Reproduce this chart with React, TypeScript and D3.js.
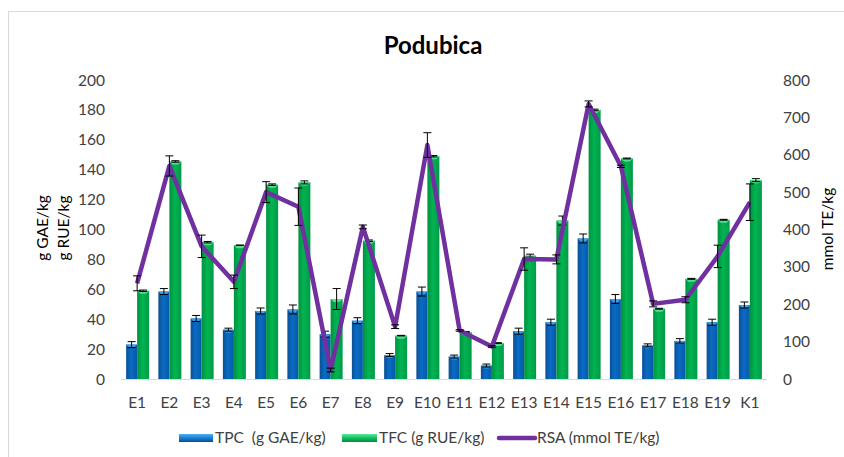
import React from "react";
import * as d3 from "d3";

const categories = ["E1","E2","E3","E4","E5","E6","E7","E8","E9","E10","E11","E12","E13","E14","E15","E16","E17","E18","E19","K1"];
const tpc = [23, 58.5, 40.5, 33, 45.5, 46.5, 30, 39, 16, 58.5, 15, 9, 32, 38, 94, 53.5, 22.5, 25.5, 38, 49.5];
const tpcErr = [2, 2, 2, 1, 2, 3, 2, 2, 1, 3, 1, 1, 2, 2, 3, 3, 1, 1.5, 2, 2];
const tfc = [59, 145.5, 91.5, 89.5, 130, 131.5, 53.5, 92.5, 29, 149, 31.5, 24, 82.5, 106, 180, 147.5, 47, 67, 106.5, 133];
const tfcErr = [0.5, 0.5, 0.5, 0, 0.5, 1, 7, 0.5, 0.2, 0.5, 0.3, 0.3, 1, 3, 0.5, 0.3, 0.3, 0.3, 0.3, 1];
const rsa = [256, 570, 355, 260, 500, 461, 24, 407, 140, 626, 130, 87, 321, 320, 736, 569, 201, 212, 328, 473];
const rsaErr = [20, 27, 30, 18, 28, 50, 5, 5, 5, 33, 2, 2, 30, 12, 8, 3, 8, 8, 30, 49];
const leftTicks = [0, 20, 40, 60, 80, 100, 120, 140, 160, 180, 200];
const rightTicks = [0, 100, 200, 300, 400, 500, 600, 700, 800];
const legendLabels = ["TPC  (g GAE/kg)", "TFC (g RUE/kg)", "RSA (mmol TE/kg)"];

const FONT = "Lato, 'Open Sans', sans-serif";

export default function App() {
  const W = 844, H = 457;
  const x = d3.scaleBand<string>().domain(categories).range([122, 767]);
  const yL = d3.scaleLinear().domain([0, 200]).range([379, 80]);
  const yR = d3.scaleLinear().domain([0, 800]).range([379, 80]);
  const bw = 11;
  const cx = (c: string) => (x(c) as number) + x.bandwidth() / 2 - 1;
  const line = d3.line<number>()
    .x((_, i) => cx(categories[i]))
    .y((d) => yR(d));

  const errBar = (xc: number, yTop: number, yBot: number, key: string) => (
    <g key={key} stroke="#000" strokeWidth={1}>
      <line x1={xc} x2={xc} y1={yTop} y2={yBot} />
      <line x1={xc - 4} x2={xc + 4} y1={yTop} y2={yTop} />
      <line x1={xc - 4} x2={xc + 4} y1={yBot} y2={yBot} />
    </g>
  );

  return (
    <svg width={W} height={H} style={{ position: "fixed", left: 0, top: 0, fontFamily: FONT }}>
      <defs>
        <linearGradient id="gBlue" x1="0" x2="1" y1="0" y2="0">
          <stop offset="0" stopColor="#0b4f96" />
          <stop offset="0.45" stopColor="#0a6cc4" />
          <stop offset="1" stopColor="#0658a8" />
        </linearGradient>
        <linearGradient id="gGreen" x1="0" x2="1" y1="0" y2="0">
          <stop offset="0" stopColor="#019140" />
          <stop offset="0.45" stopColor="#00b451" />
          <stop offset="1" stopColor="#019a47" />
        </linearGradient>
        <linearGradient id="lBlue" x1="0" x2="0" y1="0" y2="1">
          <stop offset="0" stopColor="#4fb0ef" />
          <stop offset="0.5" stopColor="#1b7fd2" />
          <stop offset="1" stopColor="#0a4f96" />
        </linearGradient>
        <linearGradient id="lGreen" x1="0" x2="0" y1="0" y2="1">
          <stop offset="0" stopColor="#5de89a" />
          <stop offset="0.5" stopColor="#10c060" />
          <stop offset="1" stopColor="#018a3c" />
        </linearGradient>
      </defs>
      <rect x={0} y={0} width={W} height={H} fill="#fff" />
      <rect x={8.5} y={11.5} width={W + 20} height={H + 20} fill="none" stroke="#d9d9d9" strokeWidth={1} />

      <text x={433} y={54} textAnchor="middle" fontSize={24} fontWeight="bold" fill="#000">Podubica</text>

      {leftTicks.map((t) => (
        <text key={"l" + t} x={105} y={yL(t) + 5.5} textAnchor="end" fontSize={15.5} fill="#404040">{t}</text>
      ))}
      {rightTicks.map((t) => (
        <text key={"r" + t} x={783} y={yR(t) + 5.5} textAnchor="start" fontSize={15.5} fill="#404040">{t}</text>
      ))}
      <text transform="translate(48,228) rotate(-90)" textAnchor="middle" fontSize={15.5} fill="#000">g GAE/kg</text>
      <text transform="translate(69,228) rotate(-90)" textAnchor="middle" fontSize={15.5} fill="#000">g RUE/kg</text>
      <text transform="translate(833,229) rotate(-90)" textAnchor="middle" fontSize={15.5} fill="#000">mmol TE/kg</text>

      {categories.map((c, i) => {
        const c0 = cx(c);
        const yb = yL(tpc[i]);
        const yg = yL(tfc[i]);
        return (
          <g key={"b" + c}>
            <rect x={c0 - bw} y={yb} width={bw} height={379 - yb} fill="url(#gBlue)" />
            <path d={`M${c0 - bw},${yb}h${bw}l-3,3h${-bw + 6}z`} fill="#3aa0ea" />
            <rect x={c0} y={yg} width={bw + 1} height={379 - yg} fill="url(#gGreen)" />
            <path d={`M${c0},${yg}h${bw + 1}l-3,3h${-bw + 5}z`} fill="#4fe38f" />
          </g>
        );
      })}

      <line x1={121} x2={767} y1={379.5} y2={379.5} stroke="#d9d9d9" strokeWidth={1} />
      {categories.map((c) => (
        <text key={"x" + c} x={(x(c) as number) + x.bandwidth() / 2 - 1} y={408} textAnchor="middle" fontSize={15.5} fill="#404040">{c}</text>
      ))}

      {categories.map((c, i) => errBar(cx(c) - bw / 2, yL(tpc[i] + tpcErr[i]), yL(tpc[i] - tpcErr[i]), "eb" + c))}
      {categories.map((c, i) => errBar(cx(c) + bw / 2 + 0.5, yL(tfc[i] + tfcErr[i]), yL(tfc[i] - tfcErr[i]), "eg" + c))}

      <path d={line(rsa) || ""} fill="none" stroke="#7030a0" strokeWidth={4.5} strokeLinejoin="round" />
      {categories.map((c, i) => errBar(cx(c), yR(rsa[i] + rsaErr[i]), yR(Math.max(0, rsa[i] - rsaErr[i])), "er" + c))}

      <g style={{ whiteSpace: "pre" }}>
        <rect x={179} y={434} width={34} height={8} fill="url(#lBlue)" />
        <text x={215} y={443} fontSize={15.5} fill="#404040" xmlSpace="preserve">{legendLabels[0]}</text>
        <rect x={342} y={434} width={35} height={8} fill="url(#lGreen)" />
        <text x={379} y={443} fontSize={15.5} fill="#404040">{legendLabels[1]}</text>
        <line x1={499} x2={535} y1={438} y2={438} stroke="#7030a0" strokeWidth={4.5} strokeLinecap="round" />
        <text x={537} y={443} fontSize={15.5} fill="#404040">{legendLabels[2]}</text>
      </g>
    </svg>
  );
}
